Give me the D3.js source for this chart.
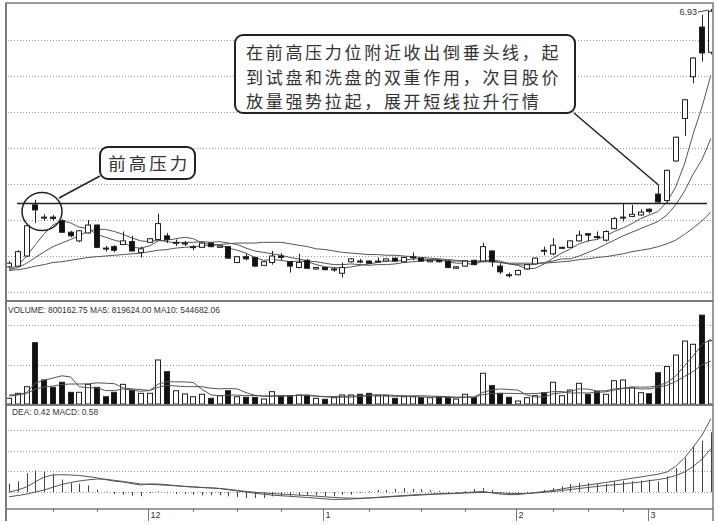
<!DOCTYPE html>
<html><head><meta charset="utf-8">
<script src="https://cdn.jsdelivr.net/npm/d3@7/dist/d3.min.js"></script>
<style>body{margin:0;background:#fff}svg{display:block}</style>
</head><body><svg id="c" width="718" height="525"></svg>
<script>
// ---------- data ----------
const open=[3.35,3.36,3.50,4.21,4.04,4.04,3.99,3.83,3.71,3.82,
 3.93,3.61,3.63,3.66,3.70,3.55,3.69,3.73,3.78,3.68,
 3.67,3.62,3.62,3.68,3.62,3.63,3.41,3.49,3.48,3.37,
 3.41,3.50,3.42,3.34,3.44,3.32,3.34,3.31,3.26,3.42,
 3.43,3.43,3.42,3.43,3.47,3.42,3.48,3.47,3.42,3.44,
 3.43,3.33,3.36,3.44,3.43,3.57,3.36,3.24,3.24,3.32,
 3.39,3.58,3.53,3.61,3.62,3.71,3.81,3.77,3.72,3.88,
 4.03,4.05,4.07,4.15,4.36,4.27,4.82,5.41,5.99,6.68,6.33];
const close=[3.40,3.56,3.92,4.14,4.03,4.02,3.83,3.78,3.85,3.93,
 3.62,3.60,3.58,3.71,3.57,3.60,3.74,3.95,3.73,3.69,
 3.68,3.63,3.68,3.63,3.64,3.47,3.49,3.46,3.36,3.42,
 3.50,3.48,3.36,3.41,3.33,3.34,3.31,3.32,3.34,3.46,
 3.42,3.40,3.43,3.46,3.43,3.48,3.49,3.43,3.44,3.42,
 3.34,3.35,3.43,3.38,3.63,3.42,3.28,3.23,3.30,3.38,
 3.47,3.57,3.65,3.62,3.71,3.79,3.79,3.76,3.84,4.02,
 4.04,4.08,4.11,4.12,4.25,4.69,5.15,5.67,6.25,6.32,6.90];
const high=[3.43,3.58,3.93,4.28,4.08,4.07,4.01,3.85,3.86,4.00,
 3.94,3.64,3.65,3.84,3.78,3.63,3.75,4.09,3.82,3.73,
 3.71,3.65,3.69,3.69,3.65,3.64,3.50,3.53,3.49,3.43,
 3.57,3.54,3.43,3.53,3.46,3.35,3.35,3.34,3.41,3.47,
 3.46,3.44,3.48,3.47,3.48,3.49,3.55,3.48,3.45,3.45,
 3.44,3.36,3.44,3.45,3.68,3.58,3.40,3.27,3.31,3.39,
 3.48,3.63,3.75,3.63,3.72,3.85,3.82,3.84,3.86,4.04,
 4.23,4.21,4.15,4.16,4.49,4.70,5.16,5.68,6.26,6.85,6.93];
const low=[3.33,3.35,3.49,3.96,3.99,3.99,3.82,3.76,3.69,3.81,
 3.61,3.56,3.55,3.65,3.56,3.48,3.68,3.72,3.68,3.64,
 3.64,3.58,3.61,3.62,3.61,3.46,3.40,3.44,3.35,3.36,
 3.38,3.44,3.27,3.33,3.32,3.31,3.30,3.28,3.20,3.41,
 3.40,3.39,3.41,3.42,3.42,3.41,3.44,3.42,3.41,3.41,
 3.33,3.32,3.35,3.37,3.42,3.35,3.25,3.20,3.23,3.31,
 3.38,3.51,3.51,3.60,3.61,3.70,3.70,3.73,3.70,3.87,
 3.98,4.04,4.06,4.09,4.24,4.24,4.81,5.17,5.90,6.20,6.30];
const ma5=[3.32,3.37,3.50,3.66,3.81,3.93,3.99,3.96,3.90,3.88,
 3.80,3.76,3.72,3.69,3.62,3.61,3.64,3.71,3.72,3.74,
 3.76,3.74,3.68,3.66,3.65,3.61,3.58,3.54,3.48,3.44,
 3.45,3.44,3.42,3.43,3.42,3.38,3.35,3.34,3.33,3.35,
 3.37,3.39,3.41,3.43,3.43,3.44,3.46,3.46,3.45,3.45,
 3.42,3.40,3.40,3.38,3.43,3.44,3.43,3.39,3.37,3.32,
 3.33,3.39,3.47,3.54,3.60,3.67,3.71,3.73,3.78,3.84,
 3.89,3.95,4.02,4.07,4.12,4.25,4.46,4.78,5.20,5.57,6.01];
const ma10=[3.31,3.34,3.40,3.48,3.56,3.63,3.68,3.73,3.78,3.85,
 3.87,3.87,3.84,3.80,3.75,3.71,3.70,3.72,3.70,3.68,
 3.69,3.69,3.70,3.69,3.70,3.68,3.66,3.61,3.57,3.55,
 3.53,3.51,3.48,3.46,3.43,3.42,3.40,3.38,3.38,3.39,
 3.38,3.37,3.38,3.38,3.39,3.41,3.42,3.43,3.44,3.44,
 3.43,3.43,3.43,3.42,3.44,3.43,3.41,3.39,3.38,3.37,
 3.39,3.41,3.43,3.46,3.46,3.50,3.55,3.60,3.66,3.72,
 3.78,3.83,3.88,3.93,3.98,4.07,4.21,4.40,4.64,4.84,5.13];
const ma30=[3.30,3.31,3.33,3.36,3.38,3.41,3.42,3.44,3.46,3.48,
 3.49,3.50,3.51,3.52,3.53,3.54,3.56,3.58,3.59,3.61,
 3.62,3.63,3.64,3.65,3.66,3.67,3.68,3.68,3.68,3.69,
 3.69,3.69,3.67,3.65,3.63,3.60,3.59,3.57,3.55,3.54,
 3.53,3.52,3.52,3.51,3.51,3.50,3.49,3.48,3.47,3.46,
 3.45,3.44,3.43,3.42,3.42,3.42,3.41,3.40,3.40,3.40,
 3.40,3.40,3.41,3.42,3.43,3.45,3.46,3.48,3.49,3.51,
 3.53,3.56,3.58,3.60,3.63,3.67,3.72,3.80,3.89,3.99,4.11];
// volume in units of 10,000 shares
const volume=[7.2,13.5,21.9,77.6,30.4,21.1,27.5,14.8,14.8,24.9,
 21.1,9.2,14.8,24.9,17.7,13.5,13.5,55.7,40.9,16.8,
 12.7,9.2,12.3,7.2,10.5,16.8,9.2,8.5,8.5,6.3,
 15.6,10.5,10.5,11.4,10.5,7.2,5.9,8.0,11.4,11.4,
 12.3,13.5,10.5,10.5,7.2,9.2,9.2,8.0,8.0,9.2,
 8.0,6.3,12.3,8.0,38.9,23.2,13.5,8.5,3.8,8.0,
 10.5,14.3,27.5,10.5,17.7,26.2,12.3,15.6,12.3,29.5,
 30.4,20.6,14.3,13.0,39.6,47.37,62.0,79.7,75.6,112.4957,80.016275];
const volMa5=[10.1,11.4,14.6,26.6,30.1,32.9,35.7,34.3,21.8,20.6,
 20.6,17.0,17.0,19.0,17.6,16.1,17.0,25.1,28.2,28.1,
 28.0,27.1,18.4,11.6,10.4,11.3,11.3,10.5,10.8,9.9,
 9.6,9.9,10.3,10.9,11.6,10.0,9.1,8.6,8.6,8.7,
 9.7,11.3,11.8,11.6,10.8,10.3,9.4,8.9,8.4,8.7,
 8.5,7.8,8.7,8.7,14.7,17.7,19.1,18.4,17.6,11.4,
 8.9,9.0,12.8,14.2,16.1,19.2,18.9,16.5,16.8,19.1,
 20.0,21.6,21.4,21.5,23.5,27.0,35.3,48.4,60.9,75.4,81.9624];
const volMa10=[11.4,12.0,13.3,19.0,21.5,22.8,24.7,25.3,25.3,25.4,
 26.8,26.3,25.7,20.4,19.1,18.4,17.0,21.0,23.7,22.8,
 22.0,22.0,21.8,20.0,19.2,19.6,19.1,14.4,11.1,10.1,
 10.4,10.5,10.4,10.8,10.8,9.9,9.5,9.5,9.7,10.3,
 9.9,10.3,10.3,10.1,9.7,10.0,10.4,10.4,10.0,9.7,
 9.4,8.6,8.9,8.6,11.8,13.2,13.5,13.5,13.2,13.0,
 13.3,14.1,15.6,15.8,13.8,14.1,13.9,14.7,15.4,17.6,
 19.6,20.3,19.0,19.2,21.4,23.5,28.5,34.9,41.3,49.5,54.468206];
const dif=[0.00,0.02,0.05,0.10,0.145,0.165,0.168,0.165,0.16,0.15,
 0.138,0.12,0.105,0.097,0.082,0.068,0.078,0.078,0.07,0.062,
 0.055,0.05,0.044,0.04,0.034,0.022,0.01,0.0,-0.012,-0.022,
 -0.03,-0.036,-0.042,-0.048,-0.053,-0.06,-0.067,-0.073,-0.071,-0.068,
 -0.063,-0.058,-0.052,-0.046,-0.04,-0.034,-0.028,-0.024,-0.02,-0.017,
 -0.015,-0.012,-0.005,0.0,0.005,-0.008,-0.02,-0.026,-0.025,-0.015,
 -0.005,0.005,0.015,0.03,0.044,0.056,0.068,0.08,0.092,0.106,
 0.12,0.133,0.146,0.16,0.173,0.194,0.25,0.33,0.437,0.553,0.71];
const dea=[-0.046,-0.034,-0.02,0.0,0.02,0.047,0.073,0.092,0.107,0.118,
 0.126,0.124,0.113,0.102,0.09,0.078,0.074,0.07,0.065,0.06,
 0.053,0.048,0.043,0.039,0.034,0.026,0.016,0.005,-0.002,-0.009,
 -0.015,-0.02,-0.025,-0.03,-0.034,-0.04,-0.047,-0.053,-0.057,-0.06,
 -0.061,-0.058,-0.054,-0.049,-0.044,-0.039,-0.034,-0.029,-0.024,-0.02,
 -0.017,-0.014,-0.01,-0.007,-0.004,-0.005,-0.009,-0.013,-0.015,-0.014,
 -0.01,-0.003,0.005,0.014,0.024,0.034,0.044,0.054,0.063,0.07,
 0.078,0.088,0.097,0.11,0.121,0.136,0.16,0.194,0.248,0.32,0.42];
const macd=[0.081,0.104,0.184,0.21,0.20,0.178,0.12,0.087,0.081,0.065,
 0.023,0.005,-0.019,-0.026,-0.036,-0.042,-0.01,0.005,-0.005,-0.019,
 -0.019,-0.026,-0.032,-0.032,-0.032,-0.042,-0.049,-0.058,-0.058,-0.058,
 -0.042,-0.042,-0.036,-0.036,-0.032,-0.032,-0.042,-0.042,-0.026,-0.026,
 -0.01,0.01,0.02,0.02,0.03,0.04,0.03,0.03,0.02,0.01,
 -0.01,-0.01,0.01,0.03,0.04,0.02,-0.02,-0.03,-0.03,-0.02,
 0.0,0.02,0.04,0.055,0.078,0.087,0.087,0.078,0.078,0.104,
 0.11,0.104,0.11,0.12,0.104,0.152,0.233,0.33,0.443,0.498,0.58];
const priceGrid=[3.0,3.5,4.0,4.5,5.0,5.5,6.0,6.5];
const volGrid=[50,100];
const macdGrid=[0.2,0.4,0.6];
const resistance=4.23;
const monthTickIdx=[16,36,58,73];
const monthLabels=["12","1","2","3"];
const weekTickIdx=[5,10,21,26,31,41,47,52,62,66,70];
const note1="前高压力";
const note2=["在前高压力位附近收出倒垂头线，起","到试盘和洗盘的双重作用，次目股价","放量强势拉起，展开短线拉升行情"];

// ---------- drawing ----------
const N=close.length;
const svg=d3.select("#c");
const FONT="'Liberation Sans', Arial, sans-serif";
const CJK="'Noto Sans CJK SC', sans-serif";
const ink="#222", lineCol="#555", gridCol="#9a9a9a";

const x=d3.scalePoint().domain(d3.range(N)).range([4.8,715.2]).padding(0.5);
const y=d3.scaleLinear().domain([3.0,7.0]).range([292,4]);
const yv=d3.scaleLinear().domain([0,100]).range([404,325]);
const ym=d3.scaleLinear().domain([0,0.6]).range([492,430.2]);
const bw=6;

const defs=svg.append("defs");
function clip(id,y0,y1){defs.append("clipPath").attr("id",id).append("rect").attr("x",7).attr("y",y0).attr("width",705).attr("height",y1-y0);}
clip("cm",4,300); clip("cv",302,404); clip("cd",406,508);

// grids
const grid=svg.append("g").attr("stroke",gridCol).attr("stroke-dasharray","1,2").attr("stroke-width",1);
priceGrid.forEach(p=>grid.append("line").attr("x1",8).attr("x2",712).attr("y1",Math.round(y(p))+0.5).attr("y2",Math.round(y(p))+0.5));
volGrid.forEach(v=>grid.append("line").attr("x1",8).attr("x2",712).attr("y1",Math.round(yv(v))+0.5).attr("y2",Math.round(yv(v))+0.5));
macdGrid.concat([0]).forEach(v=>grid.append("line").attr("x1",8).attr("x2",712).attr("y1",Math.round(ym(v))+0.5).attr("y2",Math.round(ym(v))+0.5));

// main panel
const gm=svg.append("g").attr("clip-path","url(#cm)");
const lineGen=arr=>d3.line().x((d,i)=>x(i)).y(d=>y(d))(arr);
[ma30,ma10,ma5].forEach(a=>gm.append("path").attr("d",lineGen(a)).attr("fill","none").attr("stroke",lineCol).attr("stroke-width",1));
const cg=gm.selectAll("g.k").data(d3.range(N)).join("g");
cg.append("line").attr("x1",i=>Math.round(x(i))+0.5).attr("x2",i=>Math.round(x(i))+0.5)
  .attr("y1",i=>y(high[i])).attr("y2",i=>y(low[i])).attr("stroke",ink).attr("stroke-width",1);
cg.append("rect").attr("x",i=>Math.round(x(i))-bw/2+0.5).attr("width",bw-1)
  .attr("y",i=>y(Math.max(open[i],close[i])))
  .attr("height",i=>Math.max(1,Math.abs(y(open[i])-y(close[i]))))
  .attr("fill",i=>close[i]>=open[i]?"#fff":"#111").attr("stroke",ink).attr("stroke-width",1);

// resistance line
gm.append("line").attr("x1",17).attr("x2",707).attr("y1",y(resistance)).attr("y2",y(resistance)).attr("stroke",ink).attr("stroke-width",1.6);

// high label
const hi=N-1;
svg.append("text").attr("x",697).attr("y",y(high[hi])+6).attr("text-anchor","end").attr("font-family",FONT).attr("font-size",9).attr("fill","#333").text(high[hi].toFixed(2));
svg.append("line").attr("x1",698).attr("x2",x(hi)-2).attr("y1",y(high[hi])+3).attr("y2",y(high[hi])+1).attr("stroke","#444").attr("stroke-width",1);

// volume panel
const gv=svg.append("g").attr("clip-path","url(#cv)");
gv.selectAll("rect").data(d3.range(N)).join("rect")
  .attr("x",i=>Math.round(x(i))-bw/2+0.5).attr("width",bw-1)
  .attr("y",i=>yv(volume[i])).attr("height",i=>yv(0)-yv(volume[i]))
  .attr("fill",i=>close[i]>=open[i]?"#fff":"#111").attr("stroke",ink).attr("stroke-width",1);
const vLine=arr=>d3.line().x((d,i)=>x(i)).y(d=>yv(d))(arr);
[volMa5,volMa10].forEach(a=>gv.append("path").attr("d",vLine(a)).attr("fill","none").attr("stroke",lineCol).attr("stroke-width",1));
svg.append("text").attr("x",8).attr("y",312.5).attr("font-family",FONT).attr("font-size",8.4).attr("fill","#333")
  .text(`VOLUME: ${(volume[N-1]*1e4).toFixed(2)} MA5: ${(volMa5[N-1]*1e4).toFixed(2)} MA10: ${(volMa10[N-1]*1e4).toFixed(2)}`);

// macd panel
const gd=svg.append("g").attr("clip-path","url(#cd)");
gd.selectAll("line.b").data(d3.range(N)).join("line")
  .attr("x1",i=>Math.round(x(i))+0.5).attr("x2",i=>Math.round(x(i))+0.5)
  .attr("y1",ym(0)).attr("y2",i=>ym(macd[i])).attr("stroke","#444").attr("stroke-width",1);
const mLine=arr=>d3.line().x((d,i)=>x(i)).y(d=>ym(d))(arr);
[dif,dea].forEach(a=>gd.append("path").attr("d",mLine(a)).attr("fill","none").attr("stroke",lineCol).attr("stroke-width",1));
svg.append("text").attr("x",12).attr("y",415).attr("font-family",FONT).attr("font-size",8.4).attr("fill","#333")
  .text(`DEA: ${dea[N-1].toFixed(2)}  MACD: ${macd[N-1].toFixed(2)}`);

// frame
const fr=svg.append("g").attr("stroke","#7a7a7a").attr("fill","none");
fr.append("rect").attr("x",6).attr("y",3).attr("width",707).attr("height",506).attr("stroke-width",1.5);
fr.append("line").attr("x1",6).attr("x2",6).attr("y1",3).attr("y2",521).attr("stroke-width",2);
fr.append("line").attr("x1",713).attr("x2",713).attr("y1",509).attr("y2",521).attr("stroke-width",1.5);
fr.append("line").attr("x1",6).attr("x2",713).attr("y1",301).attr("y2",301).attr("stroke-width",2);
fr.append("line").attr("x1",6).attr("x2",713).attr("y1",405).attr("y2",405).attr("stroke-width",2);

// time axis
const ax=svg.append("g");
weekTickIdx.forEach(i=>ax.append("line").attr("x1",Math.round(x(i))+0.5).attr("x2",Math.round(x(i))+0.5).attr("y1",509).attr("y2",512).attr("stroke","#777"));
monthTickIdx.forEach((i,k)=>{
  const xx=Math.round(x(i)-1.5)+0.5;
  ax.append("line").attr("x1",xx).attr("x2",xx).attr("y1",509).attr("y2",521).attr("stroke","#777");
  ax.append("text").attr("x",xx+2).attr("y",518).attr("font-family",FONT).attr("font-size",9).attr("fill","#333").text(monthLabels[k]);
});

// annotations
const an=svg.append("g");
an.append("ellipse").attr("cx",42).attr("cy",211.5).attr("rx",20).attr("ry",19).attr("fill","none").attr("stroke",ink).attr("stroke-width",1.5);
an.append("line").attr("x1",100).attr("y1",176).attr("x2",59).attr("y2",198).attr("stroke",ink).attr("stroke-width",1.5);
an.append("rect").attr("x",100).attr("y",147).attr("width",95).attr("height",32).attr("rx",8).attr("fill","#fff").attr("stroke",ink).attr("stroke-width",2);
an.append("text").attr("x",149.2).attr("y",162).attr("text-anchor","middle").attr("dominant-baseline","central")
  .attr("font-family",CJK).attr("font-size",17.5).attr("letter-spacing",3).attr("fill","#333").text(note1);

an.append("line").attr("x1",574).attr("y1",113).attr("x2",x(74)).attr("y2",y(high[74])).attr("stroke",ink).attr("stroke-width",1.5);
an.append("rect").attr("x",235).attr("y",35).attr("width",340).attr("height",78).attr("rx",8).attr("fill","#fff").attr("stroke",ink).attr("stroke-width",2);
note2.forEach((t,k)=>an.append("text").attr("x",246).attr("y",51.3+k*24.8).attr("dominant-baseline","central")
  .attr("font-family",CJK).attr("font-size",17).attr("letter-spacing",2.7).attr("fill","#333").text(t));
</script></body></html>
